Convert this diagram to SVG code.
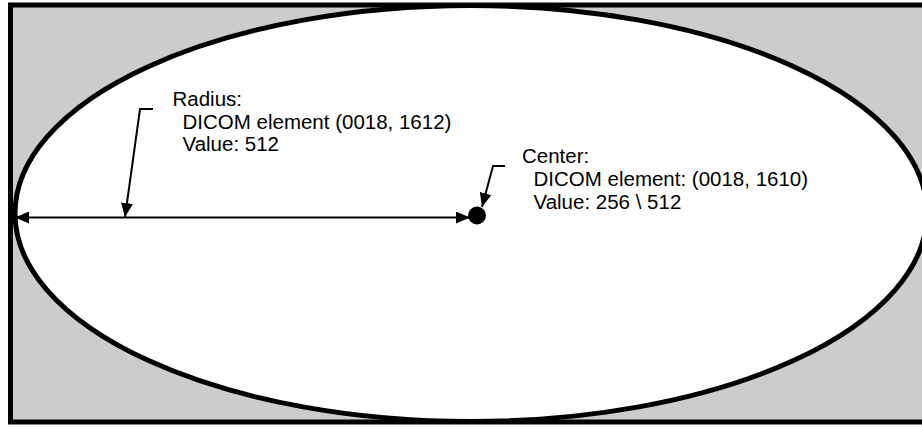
<svg xmlns="http://www.w3.org/2000/svg" width="922" height="427" viewBox="0 0 922 427">
  <style>
    .lbl { font-family: "Liberation Sans", Arial, sans-serif; font-size: 20.5px; fill: #000; }
    .conn { fill: none; stroke: #000; stroke-width: 2; }
  </style>
  <defs>
    <marker id="ah" markerUnits="userSpaceOnUse" markerWidth="15" markerHeight="12" refX="14" refY="6" orient="auto-start-reverse">
      <path d="M0,0 L14,6 L0,12 z" fill="#000"/>
    </marker>
  </defs>
  <g id="frame">
    <rect x="10.5" y="5" width="925" height="417" fill="#cccccc" stroke="#000" stroke-width="5"/>
  </g>
  <g id="ellipse">
    <ellipse cx="471" cy="213.5" rx="456" ry="208" fill="#ffffff" stroke="#000" stroke-width="5"/>
  </g>
  <g id="center-dot">
    <circle cx="477" cy="215.5" r="9" fill="#000"/>
  </g>
  <g id="connectors">
    <path class="conn" d="M15,217.5 L470,217.5" marker-start="url(#ah)" marker-end="url(#ah)"/>
    <path class="conn" d="M153,109 L140,109 L125,217" marker-end="url(#ah)"/>
    <path class="conn" d="M505,166 L493,166 L482,207" marker-end="url(#ah)"/>
  </g>
  <g id="radius-label">
    <text class="lbl" x="172.5" y="105.5">Radius:</text>
    <text class="lbl" x="182.5" y="128.5">DICOM element (0018, 1612)</text>
    <text class="lbl" x="182.5" y="151">Value: 512</text>
  </g>
  <g id="center-label">
    <text class="lbl" x="522" y="162.5">Center:</text>
    <text class="lbl" x="533.5" y="186">DICOM element: (0018, 1610)</text>
    <text class="lbl" x="533.5" y="209">Value: 256 \ 512</text>
  </g>
</svg>
